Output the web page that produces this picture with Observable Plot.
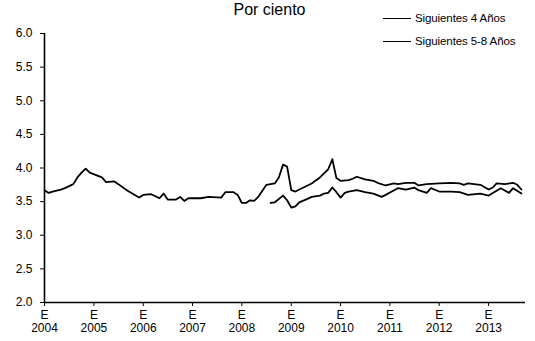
<!DOCTYPE html>
<html>
<head>
<meta charset="utf-8">
<script src="https://cdn.jsdelivr.net/npm/d3@7"></script>
<script src="https://cdn.jsdelivr.net/npm/@observablehq/plot@0.6"></script>
<style>
  html, body { margin: 0; padding: 0; background: #fff; }
  #wrap { position: relative; width: 535px; height: 341px; overflow: hidden; font-family: "Liberation Sans", Arial, sans-serif; color: #000; }
  #title { position: absolute; left: 0; width: 535px; top: 1px; text-align: center; font-size: 16px; line-height: 18px; padding-left: 2px; }
  .leg { position: absolute; left: 383px; font-size: 11.5px; letter-spacing: -0.1px; display: flex; align-items: center; white-space: nowrap; }
  .leg span.sw { display: inline-block; width: 28px; border-top: 1.6px solid #000; margin-right: 4px; }
  #chart { position: absolute; left: 0; top: 0; }
</style>
</head>
<body>
<div id="wrap">
  <div id="chart"></div>
  <div id="title">Por ciento</div>
  <div class="leg" style="top:12px"><span class="sw"></span>Siguientes 4 Años</div>
  <div class="leg" style="top:35px"><span class="sw"></span>Siguientes 5-8 Años</div>
</div>
<script>
// Series names
const seriesNames = ["Siguientes 4 Años", "Siguientes 5-8 Años"];

// Siguientes 4 Años
const s4Dates = ["2004-01","2004-02","2004-03","2004-05","2004-06","2004-08","2004-09","2004-10","2004-11","2004-12",
  "2005-03","2005-04","2005-06","2005-07","2005-09","2005-12",
  "2006-01","2006-03","2006-05","2006-06","2006-07","2006-09","2006-10","2006-11","2006-12",
  "2007-03","2007-05","2007-08","2007-09","2007-11","2007-12",
  "2008-01","2008-02","2008-03","2008-04","2008-05","2008-07","2008-09","2008-10","2008-11","2008-12",
  "2009-01","2009-02","2009-04","2009-06","2009-08","2009-10","2009-11","2009-12",
  "2010-01","2010-03","2010-04","2010-05","2010-07","2010-09","2010-10","2010-12",
  "2011-02","2011-03","2011-05","2011-07","2011-08","2011-10",
  "2012-01","2012-04","2012-06","2012-07","2012-08","2012-11",
  "2013-01","2013-02","2013-03","2013-05","2013-07","2013-08","2013-09"];
const s4Values = [3.67,3.63,3.65,3.68,3.70,3.76,3.86,3.93,3.99,3.93,
  3.86,3.79,3.80,3.76,3.67,3.56,
  3.60,3.61,3.55,3.62,3.53,3.53,3.57,3.51,3.55,
  3.55,3.57,3.56,3.64,3.64,3.60,
  3.48,3.48,3.52,3.51,3.57,3.75,3.77,3.86,4.05,4.02,
  3.67,3.65,3.71,3.77,3.86,3.98,4.13,3.85,
  3.81,3.82,3.84,3.87,3.83,3.81,3.78,3.74,
  3.77,3.76,3.78,3.78,3.74,3.76,
  3.77,3.78,3.77,3.75,3.77,3.75,
  3.68,3.71,3.77,3.76,3.78,3.75,3.68];

// Siguientes 5-8 Años
const s58Dates = ["2008-08","2008-09","2008-11","2008-12",
  "2009-01","2009-02","2009-03","2009-05","2009-06","2009-08","2009-09","2009-10","2009-11","2009-12",
  "2010-01","2010-02","2010-03","2010-05","2010-07","2010-09","2010-11","2010-12",
  "2011-02","2011-03","2011-05","2011-07","2011-08","2011-10","2011-11",
  "2012-01","2012-04","2012-06","2012-08","2012-11",
  "2013-01","2013-04","2013-06","2013-07","2013-09"];
const s58Values = [3.48,3.49,3.59,3.52,
  3.41,3.43,3.49,3.54,3.57,3.59,3.62,3.63,3.71,3.64,
  3.56,3.63,3.65,3.67,3.64,3.62,3.57,3.60,
  3.67,3.70,3.68,3.71,3.67,3.63,3.70,
  3.65,3.65,3.64,3.60,3.62,
  3.59,3.70,3.63,3.70,3.62];

// Axis tick labels
const yTicks = [2.0, 2.5, 3.0, 3.5, 4.0, 4.5, 5.0, 5.5, 6.0];
const years = [2004, 2005, 2006, 2007, 2008, 2009, 2010, 2011, 2012, 2013];
const monthLetter = "E";

const parse = d3.utcParse("%Y-%m");
const data = [
  ...s4Dates.map((d, i) => ({date: parse(d), value: s4Values[i], series: seriesNames[0]})),
  ...s58Dates.map((d, i) => ({date: parse(d), value: s58Values[i], series: seriesNames[1]}))
];
const xTicks = years.map(y => new Date(Date.UTC(y, 0, 1)));
const xStart = new Date(Date.UTC(2004, 0, 1));
const xEnd = new Date(Date.UTC(2013, 9, 1));

const chart = Plot.plot({
  width: 535,
  height: 341,
  marginLeft: 44,
  marginRight: 10,
  marginTop: 33,
  marginBottom: 39,
  style: {fontFamily: "'Liberation Sans', Arial, sans-serif", fontSize: "12px", color: "#000", background: "transparent"},
  x: {type: "utc", domain: [xStart, xEnd]},
  y: {domain: [2, 6]},
  marks: [
    Plot.axisY({ticks: yTicks, tickFormat: d3.format(".1f"), tickSize: 4, tickPadding: 8, label: null, fontSize: 12}),
    Plot.axisX({ticks: xTicks, tickFormat: d => monthLetter + "\n" + d.getUTCFullYear(), tickSize: 4, tickPadding: 4, label: null, fontSize: 12, lineHeight: 1.05}),
    Plot.ruleY([2], {stroke: "#000", strokeWidth: 1.6}),
    Plot.ruleX([xStart], {stroke: "#000", strokeWidth: 1.6}),
    Plot.line(data, {x: "date", y: "value", z: "series", stroke: "#000", strokeWidth: 1.8})
  ]
});
document.getElementById("chart").appendChild(chart);
</script>
</body>
</html>
